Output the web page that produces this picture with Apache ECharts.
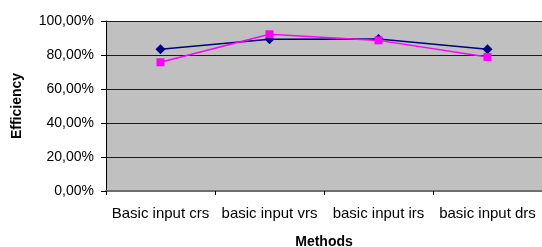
<!DOCTYPE html>
<html><head><meta charset="utf-8">
<script src="https://cdn.jsdelivr.net/npm/echarts@6/dist/echarts.min.js"></script>
<style>html,body{margin:0;padding:0;background:#fff}#c{width:542px;height:247px}</style>
</head><body><div id="c"></div>
<script>
var categories = ['Basic input crs', 'basic input vrs', 'basic input irs', 'basic input drs'];
var series1 = [83.4, 89.2, 89.4, 83.4];
var series2 = [75.7, 92.2, 88.6, 78.8];
var yTicks = [0, 20, 40, 60, 80, 100];

var chart = echarts.init(document.getElementById('c'));
var font = 'Liberation Sans, Arial, sans-serif';
chart.setOption({
  animation: false,
  grid: {left: 106, right: 0, top: 21, bottom: 56, show: true, backgroundColor: '#C0C0C0', borderWidth: 0,
         containLabel: false, outerBoundsMode: 'none'},
  xAxis: {
    type: 'category', data: categories, boundaryGap: true,
    name: 'Methods', nameLocation: 'middle', nameGap: 44,
    nameTextStyle: {fontFamily: font, fontSize: 14, fontWeight: 'bold', color: '#000'},
    axisLine: {lineStyle: {color: '#6e6e6e', width: 2}},
    axisTick: {show: true, alignWithLabel: false, length: 4, lineStyle: {color: '#000'}},
    axisLabel: {fontFamily: font, fontSize: 15, color: '#000', margin: 15, interval: 0}
  },
  yAxis: {
    type: 'value', min: yTicks[0], max: yTicks[yTicks.length-1], interval: 20,
    name: 'Efficiency', nameLocation: 'middle', nameGap: 82, nameRotate: 90,
    nameTextStyle: {fontFamily: font, fontSize: 14, fontWeight: 'bold', color: '#000'},
    axisLine: {show: true, lineStyle: {color: '#000', width: 1}},
    axisTick: {show: true, length: 5, lineStyle: {color: '#000'}},
    axisLabel: {fontFamily: font, fontSize: 14, color: '#000', margin: 12,
      formatter: function(v){ return v.toFixed(2).replace('.', ',') + '%'; }},
    splitLine: {show: true, lineStyle: {color: '#1a1a1a', width: 1}}
  },
  series: [
    {type: 'line', data: series1, symbol: 'diamond', symbolSize: 10,
     itemStyle: {color: '#000080'}, lineStyle: {color: '#000080', width: 1.5}, z: 3},
    {type: 'line', data: series2, symbol: 'rect', symbolSize: 8,
     itemStyle: {color: '#FF00FF'}, lineStyle: {color: '#FF00FF', width: 1.5}, z: 4}
  ]
});
</script></body></html>
